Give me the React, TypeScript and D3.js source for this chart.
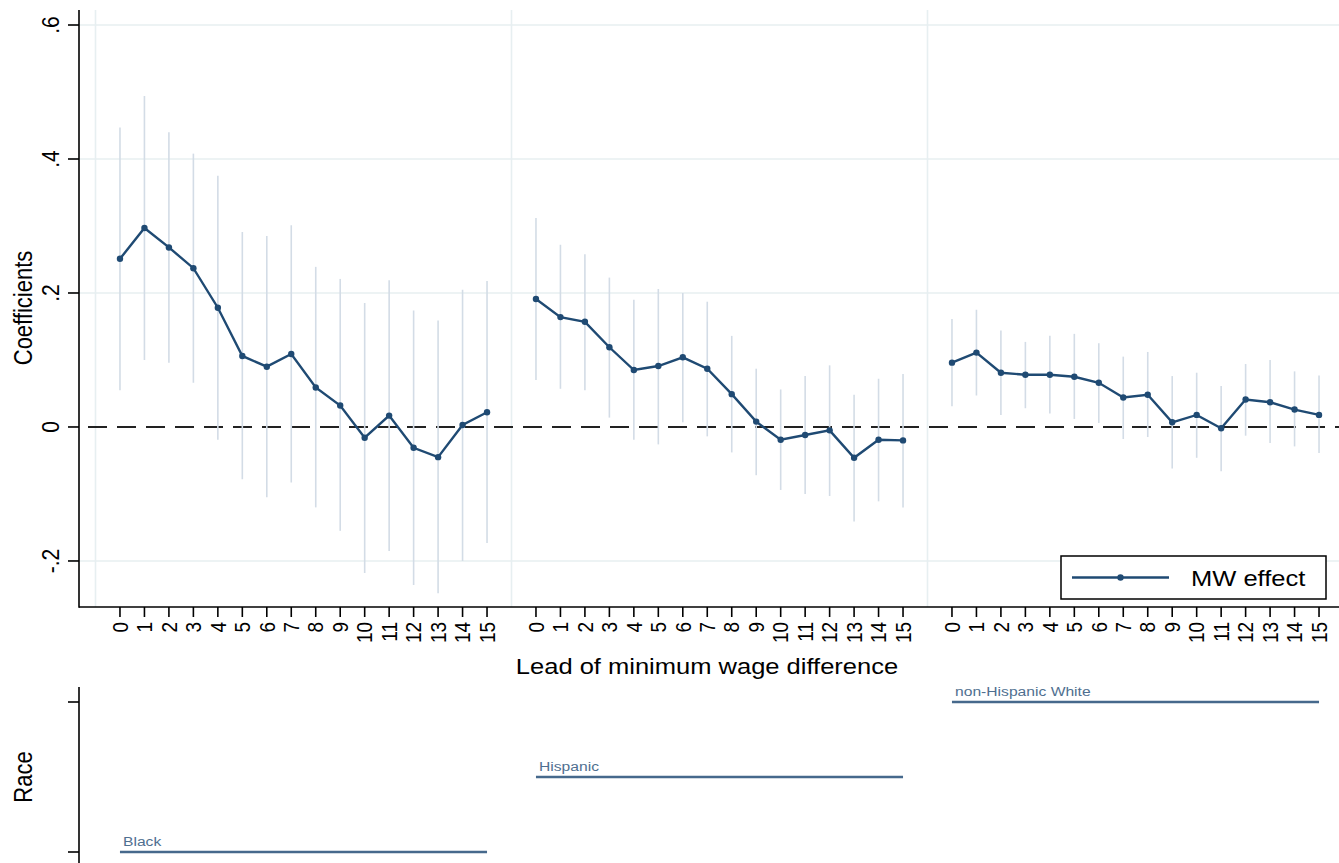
import React from "react";
import * as d3 from "d3";

const groups = ["Black", "Hispanic", "non-Hispanic White"];
const leads = d3.range(0, 16);
const yTicks = [-0.2, 0, 0.2, 0.4, 0.6];
const yTickLabels = ["-.2", "0", ".2", ".4", ".6"];

const blackCoef = [0.251, 0.297, 0.268, 0.237, 0.178, 0.106, 0.090, 0.109, 0.059, 0.032, -0.016, 0.017, -0.031, -0.045, 0.003, 0.022];
const blackHi = [0.447, 0.494, 0.440, 0.408, 0.375, 0.291, 0.285, 0.301, 0.239, 0.221, 0.185, 0.219, 0.174, 0.159, 0.205, 0.218];
const blackLo = [0.055, 0.100, 0.096, 0.066, -0.019, -0.078, -0.105, -0.083, -0.120, -0.155, -0.218, -0.185, -0.236, -0.248, -0.200, -0.173];

const hispCoef = [0.191, 0.164, 0.157, 0.119, 0.085, 0.091, 0.104, 0.087, 0.049, 0.008, -0.019, -0.012, -0.005, -0.046, -0.019, -0.020];
const hispHi = [0.312, 0.272, 0.258, 0.223, 0.190, 0.206, 0.200, 0.187, 0.136, 0.087, 0.056, 0.076, 0.092, 0.048, 0.072, 0.079];
const hispLo = [0.070, 0.057, 0.055, 0.014, -0.019, -0.026, 0.007, -0.014, -0.038, -0.072, -0.094, -0.100, -0.103, -0.141, -0.111, -0.120];

const whiteCoef = [0.096, 0.111, 0.081, 0.078, 0.078, 0.075, 0.066, 0.044, 0.048, 0.007, 0.018, -0.002, 0.041, 0.037, 0.026, 0.018];
const whiteHi = [0.161, 0.175, 0.144, 0.127, 0.136, 0.139, 0.125, 0.105, 0.112, 0.076, 0.081, 0.061, 0.094, 0.100, 0.083, 0.077];
const whiteLo = [0.031, 0.047, 0.018, 0.028, 0.020, 0.012, 0.006, -0.018, -0.015, -0.062, -0.046, -0.066, -0.013, -0.024, -0.029, -0.039];

const coefs = [blackCoef, hispCoef, whiteCoef];
const his = [blackHi, hispHi, whiteHi];
const los = [blackLo, hispLo, whiteLo];

const NAVY = "#1f4a73";
const CI = "#d3dce6";
const GRID = "#e7eff1";
const LABEL_BLUE = "#4f6f90";
const FONT = "'Liberation Sans', Arial, sans-serif";
const SX = 1.16;

export default function App() {
  const W = 1339, H = 863;
  const x = d3.scaleLinear().domain([-1, 50]).range([95.5, 1343.5]);
  const y = d3.scaleLinear().domain([-0.2687, 0.6224]).range([607, 10]);
  const axisLeft = 79;
  const axisBottom = 607;
  const pos = (g: number, l: number) => x(g * 17 + l);

  const line = d3
    .line<[number, number]>()
    .x((d) => d[0])
    .y((d) => d[1]);

  const raceY = d3.scalePoint<string>().domain(groups).range([852, 702]);

  return (
    <svg
      width={W}
      height={H}
      style={{ position: "absolute", left: 0, top: 0, background: "#fff", fontFamily: FONT }}
    >
      <rect x={0} y={0} width={W} height={H} fill="#fff" />
      {/* horizontal gridlines */}
      {yTicks
        .filter((t) => t !== 0)
        .map((t) => (
          <line key={"hg" + t} x1={axisLeft} x2={W} y1={y(t)} y2={y(t)} stroke={GRID} strokeWidth={1.6} />
        ))}
      {/* vertical gridlines (group dividers) */}
      {[-1, 16, 33].map((v) => (
        <line key={"vg" + v} x1={x(v)} x2={x(v)} y1={10} y2={axisBottom} stroke={GRID} strokeWidth={1.6} />
      ))}
      {/* zero dashed line */}
      <line
        x1={axisLeft}
        x2={W}
        y1={y(0)}
        y2={y(0)}
        stroke="#222"
        strokeWidth={2}
        strokeDasharray="19,10"
        strokeDashoffset={-9}
      />
      {/* CIs */}
      {groups.map((g, gi) =>
        leads.map((l) => (
          <line
            key={g + "ci" + l}
            x1={pos(gi, l)}
            x2={pos(gi, l)}
            y1={y(his[gi][l])}
            y2={y(los[gi][l])}
            stroke={CI}
            strokeWidth={1.6}
          />
        ))
      )}
      {/* coefficient lines */}
      {groups.map((g, gi) => (
        <g key={g + "line"}>
          <path
            d={line(leads.map((l) => [pos(gi, l), y(coefs[gi][l])] as [number, number])) || ""}
            fill="none"
            stroke={NAVY}
            strokeWidth={2.4}
          />
          {leads.map((l) => (
            <circle key={l} cx={pos(gi, l)} cy={y(coefs[gi][l])} r={3.2} fill={NAVY} />
          ))}
        </g>
      ))}
      {/* axes */}
      <line x1={axisLeft} x2={axisLeft} y1={10} y2={axisBottom + 0.75} stroke="#000" strokeWidth={1.6} />
      <line x1={axisLeft} x2={W} y1={axisBottom} y2={axisBottom} stroke="#000" strokeWidth={1.6} />
      {yTicks.map((t, i) => (
        <g key={"yt" + t}>
          <line x1={axisLeft - 11} x2={axisLeft} y1={y(t)} y2={y(t)} stroke="#000" strokeWidth={1.6} />
          <text
            transform={`translate(59,${y(t)}) rotate(-90) scale(1,${SX})`}
            textAnchor="middle"
            fontSize={21}
            fill="#000"
          >
            {yTickLabels[i]}
          </text>
        </g>
      ))}
      <text
        transform={`translate(32,308) rotate(-90) scale(1,${SX})`}
        textAnchor="middle"
        fontSize={22}
        fill="#000"
      >
        Coefficients
      </text>
      {groups.map((g, gi) =>
        leads.map((l) => (
          <g key={g + "xt" + l}>
            <line
              x1={pos(gi, l)}
              x2={pos(gi, l)}
              y1={axisBottom}
              y2={axisBottom + 10}
              stroke="#000"
              strokeWidth={1.6}
            />
            <text
              transform={`translate(${pos(gi, l)},622) rotate(-90) scale(1,${SX})`}
              textAnchor="end"
              dy="0.35em"
              fontSize={19}
              fill="#000"
            >
              {String(l)}
            </text>
          </g>
        ))
      )}
      <text transform={`translate(707,674) scale(${SX},1)`} textAnchor="middle" fontSize={22} fill="#000">
        Lead of minimum wage difference
      </text>
      {/* legend */}
      <rect x={1061} y={556} width={265} height={43} fill="#fff" stroke="#000" strokeWidth={1.5} />
      <line x1={1072} x2={1169} y1={577.5} y2={577.5} stroke={NAVY} strokeWidth={2.4} />
      <circle cx={1120.5} cy={577.5} r={3.2} fill={NAVY} />
      <text transform={`translate(1191,586) scale(${SX},1)`} fontSize={22} fill="#000">
        MW effect
      </text>
      {/* bottom race panel */}
      <line x1={axisLeft} x2={axisLeft} y1={687} y2={H} stroke="#000" strokeWidth={1.6} />
      {[groups[0], groups[groups.length - 1]].map((g) => (
        <line key={"rt" + g} x1={axisLeft - 11} x2={axisLeft} y1={raceY(g)} y2={raceY(g)} stroke="#000" strokeWidth={1.6} />
      ))}
      <text
        transform={`translate(32,777) rotate(-90) scale(1,${SX})`}
        textAnchor="middle"
        fontSize={22}
        fill="#000"
      >
        Race
      </text>
      {groups.map((g, gi) => (
        <g key={"race" + g}>
          <line
            x1={pos(gi, 0)}
            x2={pos(gi, 15)}
            y1={raceY(g)}
            y2={raceY(g)}
            stroke="#46698c"
            strokeWidth={2.4}
          />
          <text
            transform={`translate(${pos(gi, 0) + 3},${(raceY(g) as number) - 6}) scale(${SX},1)`}
            fontSize={13.5}
            fill={LABEL_BLUE}
          >
            {g}
          </text>
        </g>
      ))}
    </svg>
  );
}
